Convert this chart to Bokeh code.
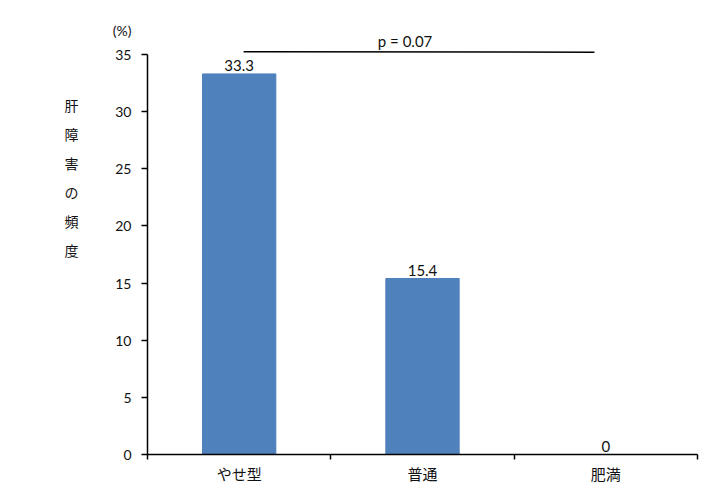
from bokeh.plotting import figure
from bokeh.models import (Range1d, FixedTicker, LinearAxis, ColumnDataSource)
from bokeh.core.properties import value
from bokeh.embed import file_html
from bokeh.resources import INLINE

# ---- data ----
categories = ["やせ型", "普通", "肥満"]
values = [33.3, 15.4, 0]
value_labels = ["33.3", "15.4", "0"]
y_ticks = [0, 5, 10, 15, 20, 25, 30, 35]
y_title_chars = ["肝", "障", "害", "の", "頻", "度"]
p_text = "p = 0.07"
unit_text = "(%)"

BAR_COLOR = "#4F81BD"
NUM_FONT = "Lato"
JP_FONT = "Noto Sans CJK JP"

x_pos = [i + 0.5 for i in range(len(categories))]

p = figure(frame_width=550, frame_height=424,
           x_range=Range1d(0, 3), y_range=Range1d(0, 37.1),
           output_backend="svg", toolbar_location=None,
           min_border_left=147, min_border_right=15,
           min_border_top=30, min_border_bottom=41,
           background_fill_color="white", border_fill_color="white")
p.outline_line_color = None
p.xgrid.visible = False
p.ygrid.visible = False

src = ColumnDataSource(dict(x=x_pos, top=values, lab=value_labels))
p.vbar(x="x", top="top", width=0.4, bottom=0, source=src,
       fill_color=BAR_COLOR, line_color=BAR_COLOR)
p.text(x="x", y="top", text="lab", source=src, text_align="center",
       text_baseline="bottom", y_offset=-3, text_font=value(NUM_FONT),
       text_font_size="15px", text_color="#111111")

# significance line and text
p.segment(x0=[0.524], y0=[35.24], x1=[2.438], y1=[35.2],
          line_color="black", line_width=1.5)
p.text(x=[1.405], y=[36.2], text=[p_text], text_align="center",
       text_baseline="middle", text_font=value(NUM_FONT),
       text_font_size="15px", text_color="#111111")

# x axis
xa = p.xaxis[0]
xa.ticker = FixedTicker(ticks=x_pos, minor_ticks=[0, 1, 2, 3])
xa.major_label_overrides = {xp: c for xp, c in zip(x_pos, categories)}
xa.major_tick_line_color = None
xa.major_tick_out = 0
xa.major_tick_in = 0
xa.minor_tick_out = 5
xa.minor_tick_in = 0
xa.minor_tick_line_color = "black"
xa.minor_tick_line_width = 1.5
xa.axis_line_color = "black"
xa.axis_line_width = 1.5
xa.major_label_standoff = 3
xa.major_label_text_font = JP_FONT
xa.major_label_text_font_size = "15px"
xa.major_label_text_color = "#111111"

# y axis (top tick label carries the unit above it)
ya = p.yaxis[0]
ya.ticker = FixedTicker(ticks=y_ticks)
ya.bounds = (0, 35)
ya.major_label_overrides = {y_ticks[-1]: unit_text + "\n \n" + str(y_ticks[-1]) + "\n \n "}
ya.major_tick_out = 6
ya.major_tick_in = 0
ya.minor_tick_line_color = None
ya.axis_line_color = "black"
ya.axis_line_width = 1.5
ya.major_tick_line_width = 1.5
ya.major_label_standoff = 10
ya.major_label_text_font = NUM_FONT
ya.major_label_text_font_size = "14px"
ya.major_label_text_line_height = 0.72
ya.major_label_text_color = "#111111"

# vertical title built from an extra axis
p.extra_y_ranges = {"title": Range1d(0, 424)}
title_pos = [350, 321, 292, 263, 234, 205]
ta = LinearAxis(y_range_name="title",
                ticker=FixedTicker(ticks=title_pos),
                major_label_overrides={tp: ch for tp, ch in zip(title_pos, y_title_chars)})
ta.axis_line_color = None
ta.major_tick_line_color = None
ta.minor_tick_line_color = None
ta.major_tick_out = 0
ta.major_tick_in = 0
ta.major_label_standoff = 31
ta.major_label_text_font = JP_FONT
ta.major_label_text_font_size = "14px"
ta.major_label_text_color = "#111111"
p.add_layout(ta, "left")

open("out.html", "w").write(file_html(p, INLINE))
